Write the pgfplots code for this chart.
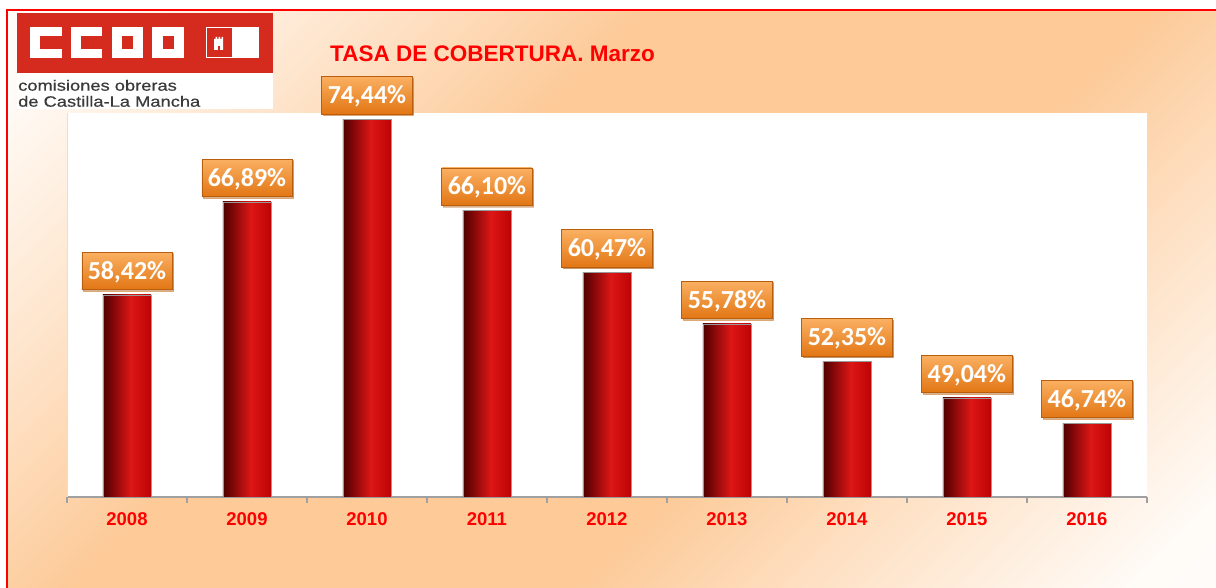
\documentclass[border=0pt]{standalone}
\usepackage{pgfplots}
\pgfplotsset{compat=1.18}
\usepackage{fontspec}
\setmainfont{Liberation Sans}
\newfontfamily\carlito{Carlito}
\newfontfamily\logofont[FakeStretch=1.22, FakeBold=0.5]{Liberation Sans}
\usetikzlibrary{shadows}

\definecolor{ccoored}{HTML}{D52B1E}
\definecolor{titlered}{HTML}{FF0000}
\definecolor{peach}{HTML}{FDCA98}
\definecolor{barDark}{HTML}{4E0000}
\definecolor{barMid}{HTML}{DE1616}
\definecolor{barRight}{HTML}{BC0404}
\definecolor{lblTop}{HTML}{FAB062}
\definecolor{lblBot}{HTML}{E27614}
\definecolor{lblEdge}{HTML}{B85E0E}
\definecolor{axisgray}{HTML}{A0A0A0}
\definecolor{logotext}{HTML}{3A3A3A}

\pgfdeclarehorizontalshading{barshade}{100bp}{color(0bp)=(barDark); color(25bp)=(barDark); color(54bp)=(barMid); color(75bp)=(barRight); color(100bp)=(barRight)}
\pgfdeclareverticalshading{bgshade}{100bp}{color(0bp)=(white); color(18bp)=(white!92!peach); color(30bp)=(white!45!peach); color(40bp)=(peach); color(60bp)=(peach); color(70bp)=(white!45!peach); color(82bp)=(white!92!peach); color(100bp)=(white)}

\pgfplotsset{
  cylbar/.style={ybar, bar width=48bp, shade, shading=barshade, draw=black!40, line width=0.6bp,
    nodes near coords={\pgfmathprintnumber[fixed, fixed zerofill, precision=2, use comma, assume math mode=true]{\pgfplotspointmeta}\%},
    every node near coord/.append style={anchor=south, yshift=5bp,
      font=\carlito\bfseries\fontsize{26bp}{28bp}\selectfont, text=white,
      top color=lblTop, bottom color=lblBot, draw=lblEdge, line width=0.6bp,
      inner xsep=6bp, inner ysep=10.5bp, text height=16.5bp, text depth=0pt,
      drop shadow={shadow xshift=1.5bp, shadow yshift=-1.5bp, opacity=0.35}},
  }
}

\begin{document}
\begin{tikzpicture}[x=1bp,y=1bp]
  \path[use as bounding box] (0,0) rectangle (1216,588);
  \fill[white] (0,0) rectangle (1216,588);
  \shade[shading=bgshade, shading angle=45] (7,0) rectangle (1216,578);
  \draw[titlered, line width=2bp] (7,0) -- (7,578) -- (1216,578);

  % logo
  \fill[ccoored] (17,515) rectangle (273,575);
  \fill[white] (17,479) rectangle (273,515);
  \fill[white] (30,530) rectangle (62,561);
  \fill[ccoored] (40,539) rectangle (62.5,552);
  \fill[white] (71,530) rectangle (102,561);
  \fill[ccoored] (81,539) rectangle (102.5,552);
  \fill[white] (112,530) rectangle (143,561);
  \fill[ccoored] (122,539) rectangle (133,552);
  \fill[white] (152,530) rectangle (184,561);
  \fill[ccoored] (163,539) rectangle (174,552);
  \draw[white, line width=1bp] (206.5,530.5) rectangle (232,560.5);
  \fill[white] (232,530) rectangle (259,561);
  \fill[white] (214,538) -- (214,549) -- (215.5,549) -- (215.5,551) -- (217,551) -- (217,549)
    -- (218.5,549) -- (218.5,551) -- (220,551) -- (220,549) -- (221.5,549) -- (221.5,551)
    -- (223,551) -- (223,549) -- (223,538) -- cycle;
  \fill[ccoored] (217.5,538) rectangle (219.5,542);
  \node[anchor=base west, inner sep=0, text=logotext, font=\logofont\fontsize{15bp}{16bp}\selectfont] at (18,497.3) {comisiones obreras};
  \node[anchor=base west, inner sep=0, text=logotext, font=\logofont\fontsize{15bp}{16bp}\selectfont] at (18,481.3) {de Castilla-La Mancha};

  % title
  \node[anchor=base west, inner sep=0, text=titlered, font=\fontsize{22.5bp}{24bp}\selectfont\bfseries] at (330,526) {TASA DE COBERTURA. Marzo};

  \begin{axis}[
    at={(67bp,91bp)}, anchor=south west,
    scale only axis, width=1080bp, height=384bp,
    xmin=-0.5, xmax=8.5, ymin=40, ymax=75,
    axis x line*=bottom, axis y line*=left,
    x axis line style={-, draw=axisgray, line width=1.5bp},
    y axis line style={-, draw=black!12, line width=1bp},
    ytick=\empty,
    xtick={0,...,8},
    xticklabels={2008,2009,2010,2011,2012,2013,2014,2015,2016},
    major tick length=0pt,
    extra x ticks={-0.5,0.5,...,8.5}, extra x tick labels={},
    extra x tick style={major tick length=6bp, tick align=outside,
      tick style={draw=axisgray, line width=1.2bp}},
    xticklabel style={font=\fontsize{18.5bp}{20bp}\selectfont\bfseries, text=titlered, yshift=-12bp},
    axis background/.style={fill=white},
    clip=false,
  ]
    \addplot[cylbar] coordinates {(0,58.42)};
    \addplot[cylbar] coordinates {(1,66.89)};
    \addplot[cylbar] coordinates {(2,74.44)};
    \addplot[cylbar] coordinates {(3,66.10)};
    \addplot[cylbar] coordinates {(4,60.47)};
    \addplot[cylbar] coordinates {(5,55.78)};
    \addplot[cylbar] coordinates {(6,52.35)};
    \addplot[cylbar] coordinates {(7,49.04)};
    \addplot[cylbar] coordinates {(8,46.74)};
  \end{axis}
\end{tikzpicture}
\end{document}
